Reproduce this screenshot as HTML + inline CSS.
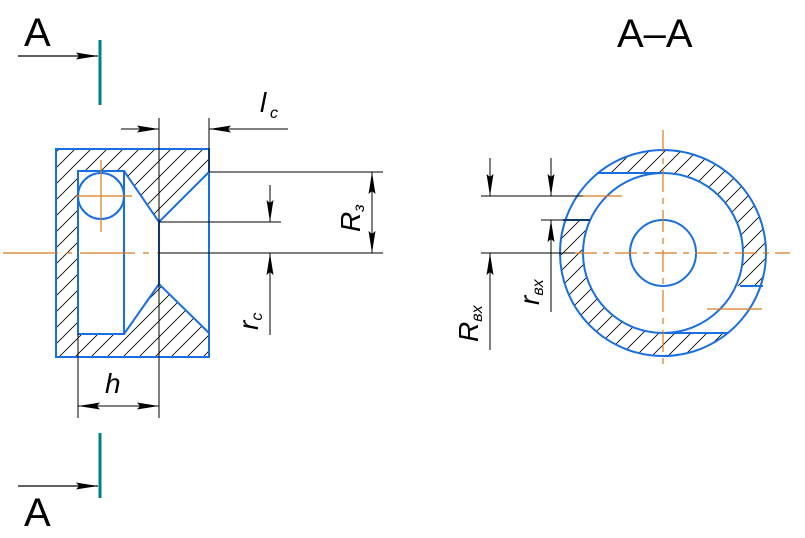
<!DOCTYPE html><html><head><style>body{margin:0;background:#fff}svg{display:block}text{font-family:"Liberation Sans",sans-serif}</style></head><body>
<svg width="805" height="538" viewBox="0 0 805 538" xmlns="http://www.w3.org/2000/svg">
<defs>
<pattern id="h" width="16" height="16" patternUnits="userSpaceOnUse"><path d="M-2,18 L18,-2 M-2,2 L2,-2 M14,18 L18,14" stroke="#000" stroke-width="0.8"/></pattern>
<marker id="ar" viewBox="0 0 22 8" refX="22" refY="4" markerWidth="22" markerHeight="8" markerUnits="userSpaceOnUse" orient="auto"><path d="M0,0.5 L6,1.5 L22,4 L6,6.5 L0,7.5 L3,4z" fill="#000"/></marker>
<clipPath id="ring"><path clip-rule="evenodd" fill-rule="evenodd" d="M663,150 a103,103 0 1,0 0.01,0z M663,173 a80,80 0 1,0 0.01,0z"/></clipPath>
</defs>
<path fill="url(#h)" fill-rule="evenodd" d="M56,149 H209 V357 H56z M78,171 H124 L159,222 L209,172 V333 L159,284 L124,334 H78z"/>
<path d="M159,222 V284 L209,333 V172z" fill="#fff"/>
<g stroke="#1a6fe0" stroke-width="2" fill="none">
<rect x="56" y="149" width="153" height="208"/>
<path d="M78,171 H124 V334 H78z M124,171 L159,222 L209,172 M124,334 L159,284 L209,333 M159,222 V284"/>
<circle cx="101" cy="196" r="23"/>
</g>
<g stroke="#d77a20" stroke-width="1.2" fill="none">
<path d="M3,253 H159" stroke-dasharray="55,8,6,8"/>
<path d="M101,160 V232 M76,196 H132"/>
</g>
<g stroke="#000" stroke-width="1" fill="none">
<path d="M159,118 V418 M209,118 V172 M78,334 V418 M209,172 H383 M159,222 H281 M159,253 H383"/>
<path d="M121,129 H159" marker-end="url(#ar)"/><path d="M288,129 H209" marker-end="url(#ar)"/>
<path d="M270,185 V222" marker-end="url(#ar)"/><path d="M270,335 V253" marker-end="url(#ar)"/>
<path d="M372,212 V172" marker-end="url(#ar)"/><path d="M372,212 V253" marker-end="url(#ar)"/>
<path d="M118,406 H78" marker-end="url(#ar)"/><path d="M118,406 H159" marker-end="url(#ar)"/>
</g>
<g stroke="#008080" stroke-width="3"><path d="M100,40 V105 M100,433 V498"/></g>
<g stroke="#000" stroke-width="1.2"><path d="M18,56 H98" marker-end="url(#ar)"/><path d="M18,486 H98" marker-end="url(#ar)"/></g>
<text x="24" y="46" font-size="40">A</text>
<text x="24" y="526" font-size="40">A</text>
<text x="617" y="47" font-size="40">A–A</text>
<g clip-path="url(#ring)"><rect x="550" y="140" width="230" height="230" fill="url(#h)"/><rect x="550" y="173" width="113" height="47" fill="#fff"/><rect x="663" y="286" width="120" height="47" fill="#fff"/></g>
<g stroke="#1a6fe0" stroke-width="2" fill="none">
<circle cx="663" cy="253" r="103"/><circle cx="663" cy="253" r="80"/><circle cx="663" cy="253" r="33"/>
<path d="M597,173 H663 M563,220 H590 M663,333 H728 M740,286 H763"/>
</g>
<g stroke="#d77a20" stroke-width="1.2" fill="none">
<path d="M663,130 V365" stroke-dasharray="22,6,6,6"/>
<path d="M575,253 H790" stroke-dasharray="22,6,6,6"/>
<path d="M583,196 H622 M707,309 H762"/>
</g>
<g stroke="#000" stroke-width="1" fill="none">
<path d="M481,196 H583 M541,220 H590 M481,253 H575"/>
<path d="M490,158 V196" marker-end="url(#ar)"/><path d="M490,350 V253" marker-end="url(#ar)"/>
<path d="M551,158 V196" marker-end="url(#ar)"/><path d="M551,312 V220" marker-end="url(#ar)"/>
</g>
<g font-size="28" font-style="italic">
<text x="260" y="112">l</text><text x="270" y="118" font-size="16">c</text>
<text x="0" y="0" transform="translate(360,232) rotate(-90)">R<tspan font-size="16" dy="4">з</tspan></text>
<text x="0" y="0" transform="translate(258,330) rotate(-90)">r<tspan font-size="16" dy="4">c</tspan></text>
<text x="105" y="393">h</text>
<text x="0" y="0" transform="translate(478,342) rotate(-90)">R<tspan font-size="16" dy="4">вх</tspan></text>
<text x="0" y="0" transform="translate(539,305) rotate(-90)">r<tspan font-size="16" dy="4">вх</tspan></text>
</g>
</svg></body></html>
